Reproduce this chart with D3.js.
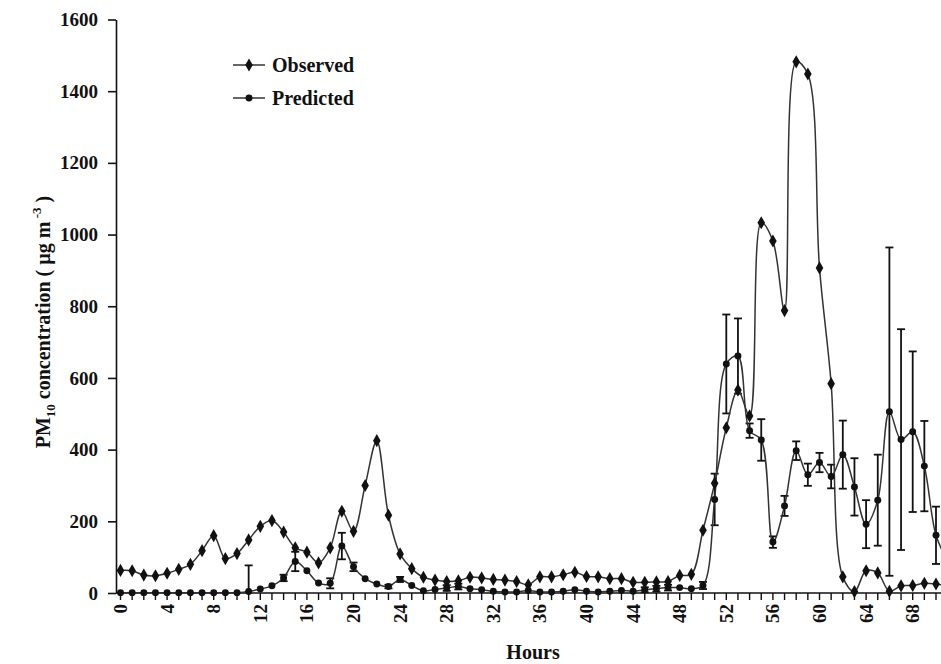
<!DOCTYPE html>
<html>
<head>
<meta charset="utf-8">
<script src="https://cdn.jsdelivr.net/npm/d3@7/dist/d3.min.js"></script>
<style>
    body { margin: 0; background: #fff; }
    svg { display: block; font-family: 'Liberation Serif', 'Times New Roman', serif; }
</style>
</head>
<body>
<div id="chart"></div>
<script>
// hours 0..71
let hours = d3.range(0, 72)

let observed = [
    63, 62, 50, 48, 55, 66, 80, 118, 160, 96,
    110, 148, 186, 202, 170, 126, 114, 84, 126, 228,
    172, 300, 425, 217, 109, 68, 44, 36, 32, 34,
    44, 42, 38, 36, 32, 23, 45, 45, 51, 58,
    46, 45, 40, 40, 30, 30, 31, 32, 49, 52,
    175, 306, 461, 566, 494, 1033, 982, 788, 1482, 1448,
    907, 584, 45, 4, 62, 56, 5, 20, 21, 27,
    25, 20
]

let predicted = [
    1, 1, 1, 1, 1, 1, 1, 1, 1, 1,
    1, 4, 11, 20, 42, 88, 62, 28, 27, 131,
    73, 40, 25, 18, 38, 21, 6, 10, 14, 18,
    12, 9, 5, 3, 3, 7, 3, 3, 5, 9,
    5, 3, 5, 7, 5, 9, 12, 15, 15, 12,
    21, 261, 639, 661, 453, 427, 142, 243, 397, 330,
    364, 325, 386, 296, 192, 259, 506, 428, 450, 354,
    161, 90
]

// error bar half-length on predicted, 0 = no bar
let predictedErr = [
    0, 0, 0, 0, 0, 0, 0, 0, 0, 0,
    0, 73, 0, 0, 9, 27, 0, 0, 14, 37,
    12, 0, 0, 5, 7, 0, 0, 0, 8, 8,
    0, 0, 0, 0, 0, 0, 0, 0, 0, 0,
    0, 0, 0, 0, 0, 7, 8, 8, 0, 0,
    10, 72, 138, 105, 20, 58, 16, 28, 26, 31,
    27, 33, 95, 80, 67, 127, 458, 308, 224, 126,
    80, 0
]

let yTicks = [0, 200, 400, 600, 800, 1000, 1200, 1400, 1600]
let xLabelTicks = d3.range(0, 72, 4)

let svgWidth = 941
let svgHeight = 664

let svg = d3.select('#chart').append('svg')
    .attr('width', svgWidth)
    .attr('height', svgHeight)

let x = d3.scaleLinear().domain([0, 70]).range([120.5, 936])
let y = d3.scaleLinear().domain([0, 1600]).range([593, 19.5])
let axisX = 116

let ink = '#111'

// y axis
let yAxis = svg.append('g').attr('class', 'y-axis')
    .attr('transform', 'translate(' + axisX + ',0)')
    .call(d3.axisLeft(y).tickValues(yTicks).tickFormat(d3.format('d'))
        .tickSize(8).tickPadding(10).tickSizeOuter(0))
yAxis.select('.domain').attr('stroke', ink).attr('stroke-width', 1.6)
yAxis.selectAll('.tick line').attr('stroke', ink).attr('stroke-width', 1.6)
yAxis.selectAll('.tick text')
    .attr('fill', ink)
    .style('font-family', 'Liberation Serif')
    .style('font-size', '19px')
    .style('font-weight', 'bold')

// x axis
let xAxisG = svg.append('g').attr('class', 'x-axis')
    .attr('transform', 'translate(0,' + y(0) + ')')
xAxisG.append('line')
    .attr('x1', axisX).attr('x2', svgWidth)
    .attr('y1', 0).attr('y2', 0)
    .attr('stroke', ink).attr('stroke-width', 1.6)
xAxisG.selectAll('.tk')
    .data(d3.range(0, 71))
    .enter()
    .append('line')
    .attr('x1', (h) => x(h)).attr('x2', (h) => x(h))
    .attr('y1', 0).attr('y2', 7)
    .attr('stroke', ink).attr('stroke-width', 1.4)
xAxisG.selectAll('.lbl')
    .data(xLabelTicks)
    .enter()
    .append('text')
    .attr('transform', (h) => 'translate(' + (x(h) + 6.5) + ',11) rotate(-90)')
    .attr('text-anchor', 'end')
    .attr('fill', ink)
    .style('font-size', '19px')
    .style('font-weight', 'bold')
    .text((h) => h)

// titles
svg.append('text')
    .attr('x', 533).attr('y', 659)
    .attr('text-anchor', 'middle')
    .attr('fill', ink)
    .style('font-size', '20px')
    .style('font-weight', 'bold')
    .text('Hours')

let yTitle = svg.append('text')
    .attr('transform', 'translate(50,' + 322 + ') rotate(-90)')
    .attr('text-anchor', 'middle')
    .attr('fill', ink)
    .style('font-size', '20px')
    .style('font-weight', 'bold')
yTitle.append('tspan').text('PM')
yTitle.append('tspan').attr('dy', 5).style('font-size', '13px').text('10')
yTitle.append('tspan').attr('dy', -5).text(' concentration ( µg m')
yTitle.append('tspan').attr('dy', -9).style('font-size', '13px').text(' -3')
yTitle.append('tspan').attr('dy', 9).text(' )')

// lines
let line = d3.line()
    .x((d) => x(d.h))
    .y((d) => y(d.v))
    .curve(d3.curveCatmullRom.alpha(0.5))

let obsData = hours.map((h, i) => ({ h: h, v: observed[i] }))
let predData = hours.map((h, i) => ({ h: h, v: predicted[i], e: predictedErr[i] }))

let plot = svg.append('g').attr('class', 'plot')

// error bars
let errData = predData.filter((d) => d.e > 0)
let capW = 4
errData.forEach((d) => {
    let lo = Math.max(0, d.v - d.e)
    let hi = d.v + d.e
    plot.append('line')
        .attr('x1', x(d.h)).attr('x2', x(d.h))
        .attr('y1', y(lo)).attr('y2', y(hi))
        .attr('stroke', ink).attr('stroke-width', 1.8)
    plot.append('line')
        .attr('x1', x(d.h) - capW).attr('x2', x(d.h) + capW)
        .attr('y1', y(hi)).attr('y2', y(hi))
        .attr('stroke', ink).attr('stroke-width', 1.8)
    if (d.v - d.e > 0) {
        plot.append('line')
            .attr('x1', x(d.h) - capW).attr('x2', x(d.h) + capW)
            .attr('y1', y(lo)).attr('y2', y(lo))
            .attr('stroke', ink).attr('stroke-width', 1.8)
    }
})

plot.append('path')
    .datum(predData)
    .attr('d', line)
    .attr('fill', 'none')
    .attr('stroke', '#333')
    .attr('stroke-width', 1.5)

plot.append('path')
    .datum(obsData)
    .attr('d', line)
    .attr('fill', 'none')
    .attr('stroke', '#333')
    .attr('stroke-width', 1.5)

let diamond = d3.symbol().type(d3.symbolDiamond).size(50)
let circle = d3.symbol().type(d3.symbolCircle).size(38)

plot.append('g').selectAll('path')
    .data(predData)
    .enter()
    .append('path')
    .attr('d', circle)
    .attr('transform', (d) => 'translate(' + x(d.h) + ',' + y(d.v) + ')')
    .attr('fill', ink)

plot.append('g').selectAll('path')
    .data(obsData)
    .enter()
    .append('path')
    .attr('d', diamond)
    .attr('transform', (d) => 'translate(' + x(d.h) + ',' + y(d.v) + ')')
    .attr('fill', ink)

// legend
let legendItems = [
    { name: 'Observed', sym: diamond, y: 65 },
    { name: 'Predicted', sym: circle, y: 98 }
]
let legend = svg.append('g').attr('class', 'legend')
legendItems.forEach((item) => {
    legend.append('line')
        .attr('x1', 233).attr('x2', 265)
        .attr('y1', item.y).attr('y2', item.y)
        .attr('stroke', '#333').attr('stroke-width', 1.5)
    legend.append('path')
        .attr('d', item.sym)
        .attr('transform', 'translate(249,' + item.y + ')')
        .attr('fill', ink)
    legend.append('text')
        .attr('x', 272).attr('y', item.y + 7)
        .attr('fill', ink)
        .style('font-size', '20px')
        .style('font-weight', 'bold')
        .text(item.name)
})
</script>
</body>
</html>
